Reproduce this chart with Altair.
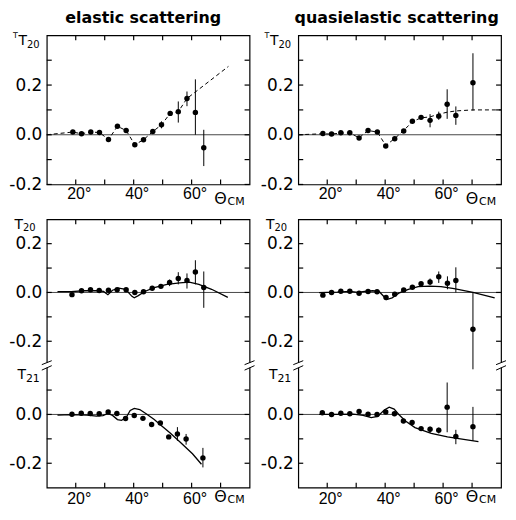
import altair as alt
import pandas as pd

# ---------------- data ----------------
# elastic scattering, tensor analysing power  ^T T20  (top row)
el_tt20_theta = [19.0, 22.0, 25.2, 28.2, 31.3, 34.4, 37.4, 40.4, 43.4, 46.6, 49.6, 52.6, 55.4, 58.4, 61.3, 64.2]
el_tt20_val = [0.011, 0.004, 0.011, 0.009, -0.019, 0.034, 0.017, -0.040, -0.020, 0.013, 0.040, 0.086, 0.093, 0.146, 0.090, -0.052]
el_tt20_lo = [0.005, -0.002, 0.005, 0.003, -0.025, 0.027, 0.010, -0.047, -0.027, 0.005, 0.026, 0.076, 0.049, 0.115, 0.000, -0.126]
el_tt20_hi = [0.017, 0.010, 0.017, 0.015, -0.013, 0.041, 0.024, -0.033, -0.013, 0.021, 0.054, 0.096, 0.134, 0.174, 0.223, 0.020]
el_tt20_curve_theta = [10, 19.0, 22.0, 25.2, 28.2, 31.3, 34.4, 37.4, 40.4, 43.4, 46.6, 49.6, 52.6, 55.4, 58.4, 72.7]
el_tt20_curve_val = [0.0, 0.011, 0.004, 0.011, 0.009, -0.019, 0.034, 0.017, -0.040, -0.020, 0.013, 0.040, 0.086, 0.093, 0.146, 0.275]

# quasielastic scattering, ^T T20 (top row)
qe_tt20_theta = [18.5, 21.5, 24.7, 27.8, 31.0, 34.1, 37.3, 40.2, 43.3, 46.4, 49.4, 52.4, 55.5, 58.5, 61.4, 64.4, 70.3]
qe_tt20_val = [0.005, 0.003, 0.008, 0.008, -0.013, 0.017, 0.011, -0.045, -0.016, 0.015, 0.054, 0.070, 0.058, 0.075, 0.123, 0.078, 0.209]
qe_tt20_lo = [-0.001, -0.003, 0.002, 0.002, -0.019, 0.011, 0.005, -0.051, -0.022, 0.009, 0.046, 0.062, 0.030, 0.060, 0.064, 0.040, 0.097]
qe_tt20_hi = [0.011, 0.009, 0.014, 0.014, -0.007, 0.023, 0.017, -0.039, -0.010, 0.021, 0.062, 0.078, 0.083, 0.093, 0.183, 0.114, 0.328]
qe_tt20_curve_theta = [10, 18.5, 21.5, 24.7, 27.8, 31.0, 34.1, 37.3, 40.2, 43.3, 46.4, 49.4, 52.4, 55.5, 58.5, 61.5, 64.5, 70.3, 80]
qe_tt20_curve_val = [0.0, 0.004, 0.003, 0.007, 0.007, -0.012, 0.017, 0.011, -0.043, -0.015, 0.017, 0.053, 0.068, 0.072, 0.083, 0.091, 0.096, 0.100, 0.100]

# elastic T20 (middle)
el_t20_theta = [18.7, 22.0, 25.1, 28.1, 31.3, 34.3, 37.4, 40.4, 43.4, 46.4, 49.4, 52.4, 55.4, 58.4, 61.3, 64.2]
el_t20_val = [-0.009, 0.007, 0.011, 0.008, 0.009, 0.011, 0.011, 0.000, 0.003, 0.017, 0.025, 0.041, 0.057, 0.049, 0.084, 0.020]
el_t20_lo = [-0.015, 0.001, 0.005, 0.002, 0.003, 0.005, 0.005, -0.006, -0.003, 0.011, 0.019, 0.026, 0.033, 0.016, 0.033, -0.063]
el_t20_hi = [-0.003, 0.013, 0.017, 0.014, 0.015, 0.017, 0.017, 0.006, 0.009, 0.023, 0.031, 0.053, 0.083, 0.078, 0.132, 0.086]
el_t20_curve_theta = [13.7, 18.4, 22.8, 27.2, 29.6, 31.1, 32.7, 34.9, 37.2, 39.4, 40.2, 41.6, 43.8, 47.1, 51.5, 55.9, 59.2, 62.5, 66.9, 72.5]
el_t20_curve_val = [0.003, 0.003, 0.007, 0.007, 0.004, -0.009, 0.009, 0.018, 0.013, -0.016, -0.022, -0.013, 0.004, 0.020, 0.033, 0.039, 0.042, 0.033, 0.013, -0.020]

# quasielastic T20 (middle)
qe_t20_theta = [18.5, 21.5, 24.7, 27.8, 31.0, 34.1, 37.2, 40.3, 43.3, 46.4, 49.4, 52.4, 55.5, 58.5, 61.5, 64.4, 70.3]
qe_t20_val = [-0.011, 0.000, 0.005, 0.005, -0.003, 0.004, 0.003, -0.021, -0.007, 0.010, 0.021, 0.036, 0.043, 0.064, 0.038, 0.049, -0.151]
qe_t20_lo = [-0.017, -0.006, -0.001, -0.001, -0.009, -0.002, -0.003, -0.027, -0.013, 0.004, 0.015, 0.030, 0.030, 0.039, 0.013, 0.000, -0.315]
qe_t20_hi = [-0.005, 0.006, 0.011, 0.011, 0.003, 0.010, 0.009, -0.015, -0.001, 0.016, 0.027, 0.042, 0.057, 0.086, 0.066, 0.103, 0.000]
qe_t20_curve_theta = [17.2, 23.4, 27.8, 30.6, 32.9, 35.7, 37.9, 40.5, 42.4, 44.7, 48.0, 51.4, 55.3, 59.3, 63.8, 70.3, 77.8]
qe_t20_curve_val = [-0.001, 0.001, 0.004, 0.000, 0.004, 0.007, 0.004, -0.029, -0.022, -0.003, 0.013, 0.024, 0.026, 0.024, 0.016, 0.000, -0.022]

# elastic T21 (bottom)
el_t21_theta = [18.7, 21.9, 25.0, 28.1, 31.2, 34.2, 37.2, 40.2, 43.2, 46.2, 49.2, 52.1, 55.1, 58.1, 63.9]
el_t21_val = [0.001, 0.005, 0.004, 0.003, 0.010, 0.004, -0.017, -0.004, -0.016, -0.041, -0.035, -0.092, -0.080, -0.101, -0.178]
el_t21_lo = [-0.005, -0.001, -0.002, -0.003, 0.004, -0.002, -0.023, -0.010, -0.022, -0.047, -0.041, -0.098, -0.108, -0.124, -0.217]
el_t21_hi = [0.007, 0.011, 0.010, 0.009, 0.016, 0.010, -0.011, 0.002, -0.010, -0.035, -0.029, -0.086, -0.052, -0.080, -0.137]
el_t21_curve_theta = [13.7, 18.4, 23.9, 27.2, 29.4, 31.1, 32.7, 34.4, 35.8, 37.4, 38.8, 40.2, 42.1, 44.3, 47.1, 49.3, 52.6, 55.9, 60.3, 63.4]
el_t21_curve_val = [-0.003, -0.001, -0.003, -0.007, -0.005, 0.004, -0.004, -0.021, -0.024, -0.013, 0.016, 0.025, 0.020, 0.003, -0.021, -0.043, -0.076, -0.112, -0.161, -0.204]

# quasielastic T21 (bottom)
qe_t21_theta = [18.3, 21.5, 24.7, 27.8, 31.0, 34.1, 37.2, 40.2, 43.2, 46.3, 49.3, 52.4, 55.5, 58.5, 61.4, 64.4, 70.3]
qe_t21_val = [0.007, 0.000, 0.005, 0.003, 0.012, 0.001, 0.000, 0.010, 0.003, -0.027, -0.033, -0.058, -0.061, -0.065, 0.030, -0.090, -0.050]
qe_t21_lo = [0.001, -0.006, -0.001, -0.003, 0.006, -0.005, -0.006, 0.004, -0.003, -0.033, -0.039, -0.064, -0.075, -0.078, -0.073, -0.122, -0.108]
qe_t21_hi = [0.013, 0.006, 0.011, 0.009, 0.018, 0.007, 0.006, 0.016, 0.009, -0.021, -0.027, -0.052, -0.050, -0.054, 0.131, -0.063, 0.031]
qe_t21_curve_theta = [17.2, 23.4, 29.0, 32.4, 35.2, 37.4, 39.7, 41.4, 43.1, 44.7, 47.0, 50.3, 55.9, 61.5, 67.1, 72.2]
qe_t21_curve_val = [0.000, 0.000, 0.001, -0.004, -0.013, -0.008, 0.018, 0.030, 0.022, 0.000, -0.027, -0.054, -0.078, -0.092, -0.102, -0.111]

# axis ticks / labels
x_tick_values = [20, 30, 40, 50, 60, 70]
x_tick_labels = ['20°', '', '40°', '', '60°', '']
top_y_tick_values = [-0.2, -0.1, 0.0, 0.1, 0.2, 0.3]
top_y_tick_labels = ['-0.2', '', '0.0', '', '0.2', '']
t20_y_tick_values = [-0.2, -0.1, 0.0, 0.1, 0.2]
t20_y_tick_labels = ['-0.2', '', '0.0', '', '0.2']
t21_y_tick_values = [-0.2, -0.1, 0.0, 0.1]
t21_y_tick_labels = ['-0.2', '', '0.0', '']

titles = ['elastic scattering', 'quasielastic scattering']

# ---------------- layout constants ----------------
W = 204
H_TOP = 150
H_LOW = 270
T20_SHIFT = 0.5      # T20 block sits above the T21 block inside one broken frame
TK = 5               # inward tick length

xs = alt.Scale(domain=[10, 80], nice=False, zero=False)


def shift_expr(field):
    return f"datum.{field} + (datum.comp == 'T20' ? {T20_SHIFT} : 0)"


def y_label_expr(values, labels):
    parts = [f"round(datum.value*10) == {round(v * 10)} ? '{l}'" for v, l in zip(values, labels) if l]
    return ' : '.join(parts) + " : ''"


def x_label_expr(values, labels):
    parts = [f"datum.value == {v} ? '{l}'" for v, l in zip(values, labels) if l]
    return ' : '.join(parts) + " : ''"


common_axis = dict(domain=False, ticks=False, grid=False, title=None,
                   labelOverlap=False, labelFlush=False, labelColor='black')

one = pd.DataFrame({'k': [0]})


def txt(text, x, y, size, align='left', font='DejaVu Sans'):
    return alt.Chart(one).mark_text(text=text, font=font, fontSize=size, align=align,
                                    baseline='alphabetic', color='black').encode(
        x=alt.value(x), y=alt.value(y))


def panel(pts, crv, zeros, ydomain, yvals, ylabels, H, dashed, texts, theta_dy, xlab_pad,
          title=None, title_dx=0, breaks=False):
    ys = alt.Scale(domain=ydomain, nice=False, zero=False)
    left_lab = alt.Axis(orient='left', values=yvals, labelExpr=y_label_expr(yvals, ylabels),
                        labelPadding=5, labelFont='DejaVu Sans', labelFontSize=17,
                        minExtent=38, maxExtent=38, **common_axis)
    bottom_lab = alt.Axis(orient='bottom', values=x_tick_values,
                          labelExpr=x_label_expr(x_tick_values, x_tick_labels),
                          labelPadding=xlab_pad, labelFont='Liberation Sans',
                          labelFontSize=16, labelOffset=3, minExtent=26, maxExtent=26, **common_axis)

    calc = dict(yp=shift_expr('v'))
    zero = alt.Chart(zeros).transform_calculate(**calc).mark_rule(color='#333', strokeWidth=0.9).encode(
        y=alt.Y('yp:Q', scale=ys, axis=None))
    line_kw = dict(color='black', strokeWidth=1.0 if dashed else 1.3)
    if dashed:
        line_kw['strokeDash'] = [4, 3]
    curve = alt.Chart(crv).transform_calculate(**calc).mark_line(**line_kw).encode(
        x=alt.X('theta:Q', scale=xs, axis=None),
        y=alt.Y('yp:Q', scale=ys, axis=None),
        detail='comp:N')
    err = alt.Chart(pts).transform_calculate(ylo=shift_expr('lo'), yhi=shift_expr('hi')).mark_rule(
        color='black', strokeWidth=1).encode(
        x=alt.X('theta:Q', scale=xs, axis=None),
        y=alt.Y('ylo:Q', scale=ys, axis=None),
        y2='yhi:Q')
    dots = alt.Chart(pts).transform_calculate(**calc).mark_circle(color='black', opacity=1, size=30).encode(
        x=alt.X('theta:Q', scale=xs, axis=bottom_lab),
        y=alt.Y('yp:Q', scale=ys, axis=left_lab))

    # inward tick marks on all four edges, positioned through the scales
    yt = pd.DataFrame({'yv': yvals})
    xt = pd.DataFrame({'xv': x_tick_values})
    tick_kw = dict(color='black', strokeWidth=1.2)
    ticks = [
        alt.Chart(yt).mark_rule(**tick_kw).encode(x=alt.value(0), x2=alt.value(TK),
                                                  y=alt.Y('yv:Q', scale=ys, axis=None)),
        alt.Chart(yt).mark_rule(**tick_kw).encode(x=alt.value(W - TK), x2=alt.value(W),
                                                  y=alt.Y('yv:Q', scale=ys, axis=None)),
        alt.Chart(xt).mark_rule(**tick_kw).encode(y=alt.value(0), y2=alt.value(TK),
                                                  x=alt.X('xv:Q', scale=xs, axis=None)),
        alt.Chart(xt).mark_rule(**tick_kw).encode(y=alt.value(H - TK), y2=alt.value(H),
                                                  x=alt.X('xv:Q', scale=xs, axis=None)),
    ]
    layers = [zero] + ticks + [curve, err, dots]
    # Theta_CM in place of the 70 degree label
    layers.append(alt.Chart(one).mark_text(text='Θ', font='DejaVu Sans', fontSize=16, align='center',
                                           baseline='alphabetic', color='black').encode(
        x=alt.X(datum=70, type='quantitative', scale=xs, axis=None), y=alt.value(H + theta_dy)))
    layers.append(alt.Chart(one).mark_text(text='CM', font='DejaVu Sans', fontSize=11, align='left',
                                           baseline='alphabetic', color='black', dx=7).encode(
        x=alt.X(datum=70, type='quantitative', scale=xs, axis=None), y=alt.value(H + theta_dy + 1)))
    for t in texts:
        layers.append(txt(*t))
    if breaks:
        for x0 in (0, W):
            layers.append(alt.Chart(one).mark_rule(color='white', strokeWidth=4, yOffset=-3, y2Offset=2).encode(
                x=alt.value(x0), y=alt.Y(datum=T20_SHIFT - 0.3, type='quantitative', scale=ys, axis=None),
                y2=alt.Y2(datum=T20_SHIFT - 0.3)))
            for yo, y2o in ((-1, -5), (4.5, 0)):
                layers.append(alt.Chart(one).mark_rule(color='black', strokeWidth=1, yOffset=yo, y2Offset=y2o).encode(
                    x=alt.value(x0 - 5), x2=alt.value(x0 + 5),
                    y=alt.Y(datum=T20_SHIFT - 0.3, type='quantitative', scale=ys, axis=None),
                    y2=alt.Y2(datum=T20_SHIFT - 0.3)))
    ch = alt.layer(*layers).resolve_axis(x='independent', y='independent').properties(width=W, height=H)
    if title:
        ch = ch.properties(title=alt.Title(title, font='DejaVu Sans', fontSize=16, fontWeight='bold',
                                           anchor='middle', frame='group', dx=title_dx, offset=6,
                                           color='black'))
    return ch


def pdf(theta, val, lo, hi, comp):
    return pd.DataFrame({'theta': theta, 'v': val, 'lo': lo, 'hi': hi, 'comp': comp})


def cdf(theta, val, comp):
    return pd.DataFrame({'theta': theta, 'v': val, 'comp': comp})


top_texts = [('T', -29, 3, 8, 'right'), ('T', -20, 10, 14, 'right'), ('20', -20, 13, 10, 'left')]
low_texts = [('T', -24, 10, 14, 'right'), ('20', -24, 12, 10, 'left'),
             ('T', -21, 161, 14, 'right'), ('21', -21, 164, 11, 'left')]

low_yvals = [v + T20_SHIFT for v in t20_y_tick_values] + t21_y_tick_values
low_ylabels = t20_y_tick_labels + t21_y_tick_labels

zeros_top = pd.DataFrame({'v': [0.0], 'comp': ['TT20']})
zeros_low = pd.DataFrame({'v': [0.0, 0.0], 'comp': ['T20', 'T21']})

columns = []
for i, (tt_pts, tt_crv, t20p, t20c, t21p, t21c) in enumerate([
    (pdf(el_tt20_theta, el_tt20_val, el_tt20_lo, el_tt20_hi, 'TT20'), cdf(el_tt20_curve_theta, el_tt20_curve_val, 'TT20'),
     pdf(el_t20_theta, el_t20_val, el_t20_lo, el_t20_hi, 'T20'), cdf(el_t20_curve_theta, el_t20_curve_val, 'T20'),
     pdf(el_t21_theta, el_t21_val, el_t21_lo, el_t21_hi, 'T21'), cdf(el_t21_curve_theta, el_t21_curve_val, 'T21')),
    (pdf(qe_tt20_theta, qe_tt20_val, qe_tt20_lo, qe_tt20_hi, 'TT20'), cdf(qe_tt20_curve_theta, qe_tt20_curve_val, 'TT20'),
     pdf(qe_t20_theta, qe_t20_val, qe_t20_lo, qe_t20_hi, 'T20'), cdf(qe_t20_curve_theta, qe_t20_curve_val, 'T20'),
     pdf(qe_t21_theta, qe_t21_val, qe_t21_lo, qe_t21_hi, 'T21'), cdf(qe_t21_curve_theta, qe_t21_curve_val, 'T21')),
]):
    top = panel(tt_pts, tt_crv, zeros_top, [-0.2, 0.4], top_y_tick_values, top_y_tick_labels, H_TOP,
                True, top_texts, 20, 1, title=titles[i], title_dx=(-5 if i == 0 else -3))
    low = panel(pd.concat([t20p, t21p]), pd.concat([t20c, t21c]), zeros_low, [-0.3, 0.8],
                low_yvals, low_ylabels, H_LOW, False, low_texts, 14, 3, breaks=True)
    columns.append(alt.vconcat(top, low, spacing=6))

chart = alt.hconcat(*columns, spacing=3).properties(
    padding={'left': 0, 'top': 0, 'right': 0, 'bottom': 0}, background='white'
).configure_view(stroke='black', strokeWidth=1.2)

chart.save("out.html", embed_options={"renderer": "svg", "actions": False})
